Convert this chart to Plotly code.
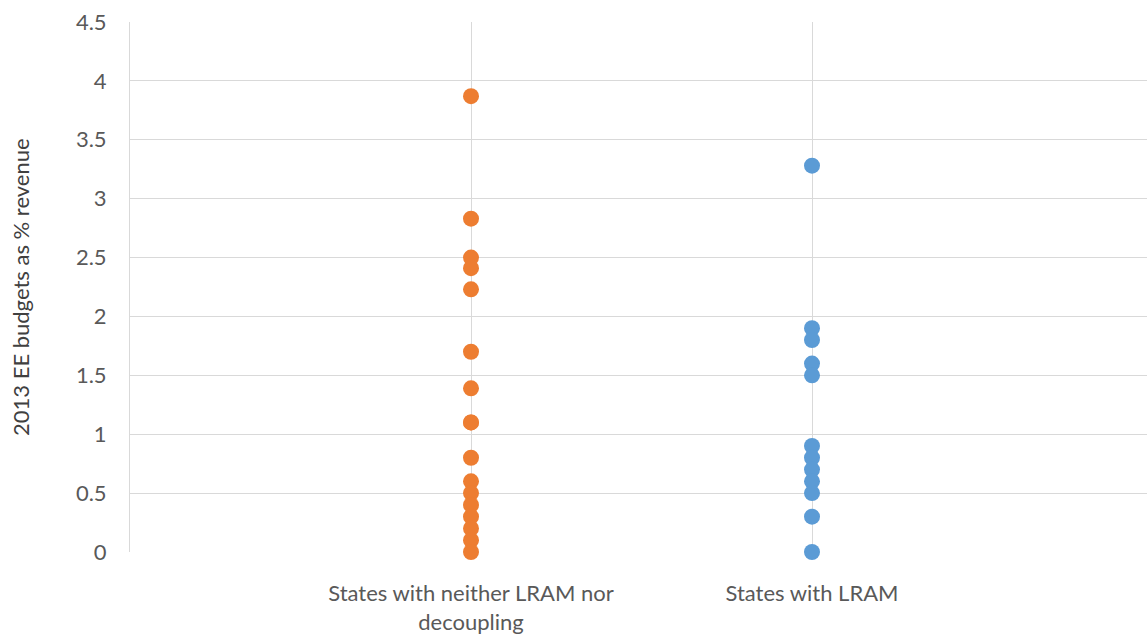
import plotly.graph_objects as go

categories = ["States with neither LRAM nor<br>decoupling", "States with LRAM"]
neither_values = [3.87, 2.83, 2.5, 2.41, 2.23, 1.7, 1.39, 1.1, 1.1, 0.8, 0.6, 0.5, 0.4, 0.3, 0.2, 0.1, 0.0]
lram_values = [3.28, 1.9, 1.8, 1.6, 1.5, 0.9, 0.8, 0.7, 0.6, 0.5, 0.3, 0.0]
y_ticks = [0, 0.5, 1, 1.5, 2, 2.5, 3, 3.5, 4, 4.5]
y_ticktext = ["0", "0.5", "1", "1.5", "2", "2.5", "3", "3.5", "4", "4.5"]

font_family = "Lato, Open Sans, sans-serif"
text_color = "#595959"
grid_color = "#d9d9d9"

W, H = 1147, 636
L, T = 130, 22
PLOT_H = 530
B = H - T - PLOT_H

fig = go.Figure()
fig.add_trace(go.Scatter(
    x=[1] * len(neither_values), y=neither_values, mode="markers",
    marker=dict(color="#ED7D31", size=16, line=dict(width=0)),
    name="neither", showlegend=False, cliponaxis=False,
))
fig.add_trace(go.Scatter(
    x=[2] * len(lram_values), y=lram_values, mode="markers",
    marker=dict(color="#5B9BD5", size=16, line=dict(width=0)),
    name="LRAM", showlegend=False, cliponaxis=False,
))

plot_w = W - L
xmax = plot_w / 341.0

fig.update_layout(
    width=W, height=H,
    margin=dict(l=L, r=0, t=T, b=B, autoexpand=False),
    paper_bgcolor="white", plot_bgcolor="white",
    font=dict(family=font_family, color=text_color, size=22),
    xaxis=dict(
        range=[0, xmax], tickvals=[1, 2], ticktext=categories,
        showgrid=True, gridcolor=grid_color, gridwidth=1,
        zeroline=False, showline=False, ticks="",
        tickfont=dict(size=22, color=text_color),
        ticklabelstandoff=26,
    ),
    yaxis=dict(
        range=[0, 4.5], tickvals=y_ticks, ticktext=y_ticktext,
        showgrid=True, gridcolor=grid_color, gridwidth=1,
        zeroline=False, showline=True, linecolor=grid_color, linewidth=1,
        ticks="", tickfont=dict(size=22, color=text_color),
        ticklabelstandoff=18,
    ),
    annotations=[dict(
        text="2013 EE budgets as % revenue", xref="paper", yref="paper",
        x=(20 - L) / plot_w, y=0.5, xanchor="center", yanchor="middle",
        textangle=-90, showarrow=False,
        font=dict(size=22, color="#404040", family=font_family),
    )],
)

fig.write_html(
    "out.html",
    config={"displayModeBar": False},
    post_script="document.body.style.margin='0';document.body.style.overflow='hidden';",
)
